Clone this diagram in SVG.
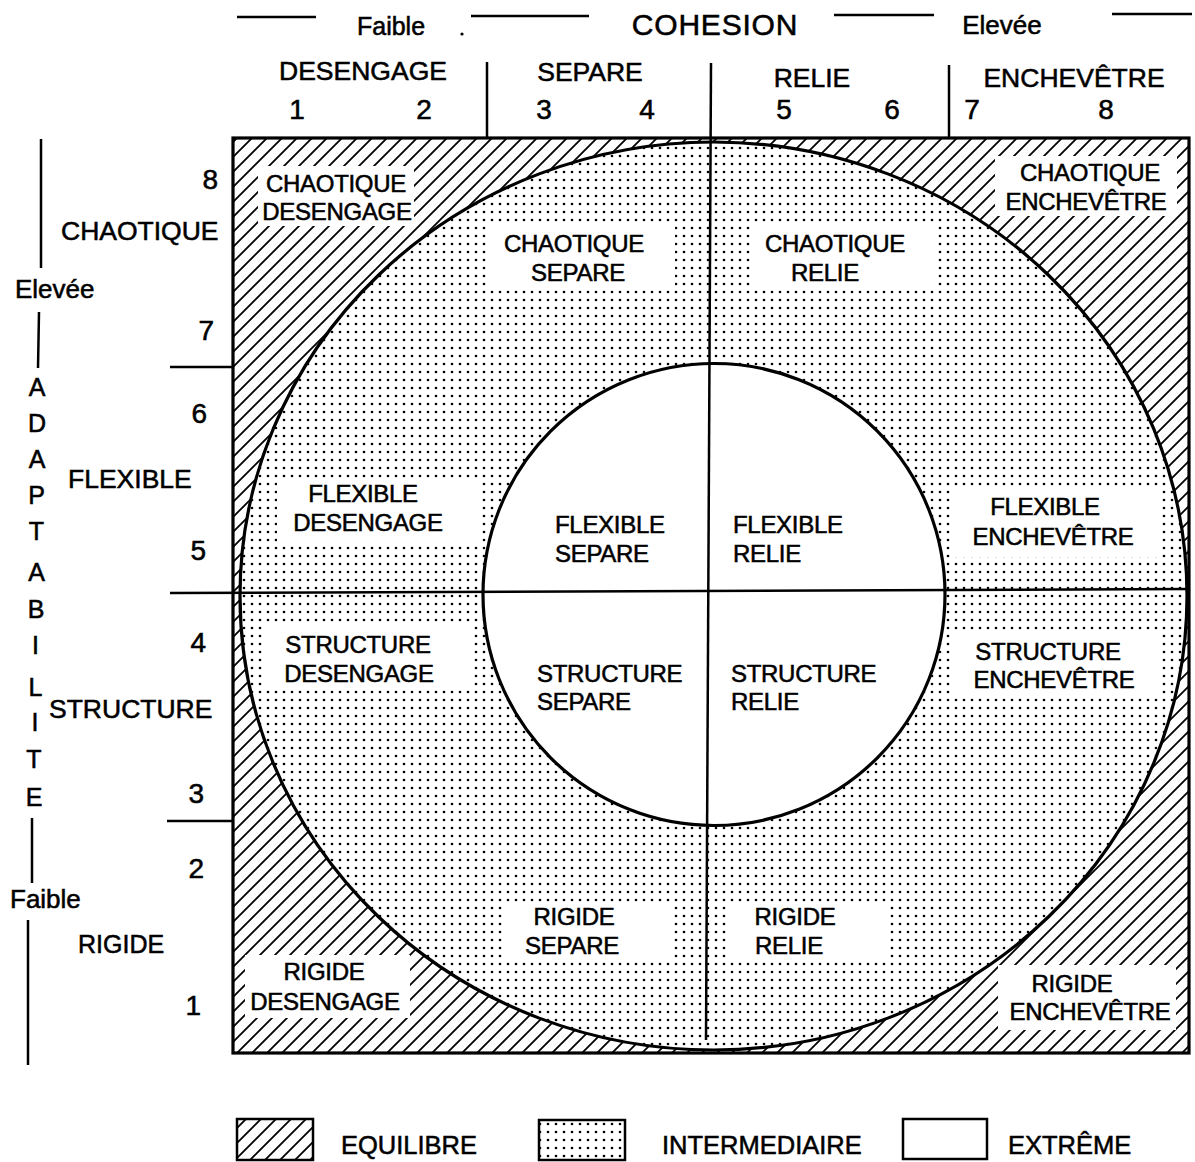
<svg xmlns="http://www.w3.org/2000/svg" width="1195" height="1162" viewBox="0 0 1195 1162">
<style>
text{font-family:"Liberation Sans",Arial,Helvetica,sans-serif;fill:#000;stroke:#000;stroke-width:0.55px}
.ax{font-size:26.5px}
.top{font-size:26.5px}
.num{font-size:28px}
.lab{font-size:24px;text-anchor:middle;letter-spacing:-0.3px}
.labl{font-size:24px;letter-spacing:-0.3px}
.let{font-size:25px;text-anchor:middle}
.leg{font-size:25.5px}
.ln{stroke:#000;stroke-width:2.5;fill:none}
.bold{stroke:#000;stroke-width:3.2;fill:none}
.wb{fill:#fff;stroke:none}
</style>
<defs>
<pattern id="hatch" patternUnits="userSpaceOnUse" width="15" height="15">
<path d="M-3.75,3.75 L3.75,-3.75 M0,15 L15,0 M11.25,18.75 L18.75,11.25" stroke="#000" stroke-width="1.8"/>
</pattern>
<pattern id="dots" patternUnits="userSpaceOnUse" width="8" height="8">
<circle cx="4" cy="4" r="1.3" fill="#000"/>
</pattern>
</defs>
<rect width="1195" height="1162" fill="#fff"/>

<g id="fills">
<rect x="233" y="138" width="956" height="915" fill="url(#hatch)"/>
<ellipse cx="713.5" cy="596" rx="473.5" ry="454" fill="#fff"/>
<ellipse cx="713.5" cy="596" rx="473.5" ry="454" fill="url(#dots)"/>
<circle cx="714" cy="594.5" r="231" fill="#fff"/>
</g>

<g id="label-boxes">
<rect class="wb" x="258" y="166" width="156" height="60"/>
<rect class="wb" x="487" y="225" width="188" height="63"/>
<rect class="wb" x="750" y="225" width="185" height="63"/>
<rect class="wb" x="995" y="156" width="182" height="60"/>
<rect class="wb" x="277" y="478" width="203" height="67"/>
<rect class="wb" x="263" y="623" width="210" height="67"/>
<rect class="wb" x="953" y="490" width="207" height="67"/>
<rect class="wb" x="950" y="633" width="210" height="64"/>
<rect class="wb" x="505" y="902" width="165" height="58"/>
<rect class="wb" x="728" y="902" width="159" height="58"/>
<rect class="wb" x="245" y="955" width="165" height="63"/>
<rect class="wb" x="998" y="965" width="178" height="65"/>
</g>

<g id="connectors">
<ellipse class="bold" cx="713.5" cy="596" rx="473.5" ry="454"/>
<circle class="bold" cx="714" cy="594.5" r="231"/>
<rect class="bold" x="233" y="138" width="956" height="915"/>
<line class="ln" x1="711" y1="63" x2="706" y2="1040"/>
<line class="ln" x1="170" y1="593" x2="1190" y2="589"/>
<line class="ln" x1="487" y1="62" x2="487" y2="138"/>
<line class="ln" x1="949" y1="65" x2="949" y2="138"/>
<line class="ln" x1="170" y1="367" x2="233" y2="367"/>
<line class="ln" x1="167" y1="821" x2="233" y2="821"/>
<line class="ln" x1="237" y1="17" x2="316" y2="17"/>
<line class="ln" x1="471" y1="16" x2="589" y2="16"/>
<line class="ln" x1="834" y1="15" x2="934" y2="15"/>
<line class="ln" x1="1112" y1="14" x2="1192" y2="14"/>
<circle cx="462" cy="34" r="1.6" fill="#000"/>
<line class="ln" x1="41" y1="139" x2="41" y2="268"/>
<line class="ln" x1="39" y1="312" x2="38" y2="368"/>
<line class="ln" x1="32" y1="818" x2="32" y2="883"/>
<line class="ln" x1="28" y1="920" x2="28" y2="1065"/>
</g>

<g id="cohesion-axis">
<text class="top" x="391" y="35" text-anchor="middle" style="font-size:25px">Faible</text>
<text x="715" y="35" text-anchor="middle" style="font-size:30px;letter-spacing:0.8px">COHESION</text>
<text class="top" x="1002" y="34" text-anchor="middle" style="font-size:26px">Elevée</text>
<text class="top" x="363" y="80" text-anchor="middle">DESENGAGE</text>
<text class="top" x="590" y="81" text-anchor="middle">SEPARE</text>
<text class="top" x="812" y="87" text-anchor="middle">RELIE</text>
<text class="top" x="1074" y="87" text-anchor="middle">ENCHEVÊTRE</text>
<text class="num" x="297" y="119" text-anchor="middle">1</text>
<text class="num" x="424" y="119" text-anchor="middle">2</text>
<text class="num" x="544" y="119" text-anchor="middle">3</text>
<text class="num" x="647" y="119" text-anchor="middle">4</text>
<text class="num" x="784" y="119" text-anchor="middle">5</text>
<text class="num" x="892" y="119" text-anchor="middle">6</text>
<text class="num" x="972" y="119" text-anchor="middle">7</text>
<text class="num" x="1106" y="119" text-anchor="middle">8</text>
</g>

<g id="adaptabilite-axis">
<text x="15" y="298" style="font-size:26px">Elevée</text>
<text x="10" y="908" style="font-size:26px">Faible</text>
<text class="let" x="37" y="396">A</text>
<text class="let" x="37" y="432">D</text>
<text class="let" x="37" y="468">A</text>
<text class="let" x="36.5" y="504">P</text>
<text class="let" x="36.5" y="540">T</text>
<text class="let" x="36.5" y="581">A</text>
<text class="let" x="36" y="618">B</text>
<text class="let" x="35.5" y="654">I</text>
<text class="let" x="35.5" y="696">L</text>
<text class="let" x="35" y="731">I</text>
<text class="let" x="34" y="768">T</text>
<text class="let" x="34" y="806">E</text>
<text class="num" x="218" y="189" text-anchor="end">8</text>
<text class="num" x="214" y="340" text-anchor="end">7</text>
<text class="num" x="207" y="423" text-anchor="end">6</text>
<text class="num" x="206" y="560" text-anchor="end">5</text>
<text class="num" x="206" y="652" text-anchor="end">4</text>
<text class="num" x="204" y="803" text-anchor="end">3</text>
<text class="num" x="204" y="878" text-anchor="end">2</text>
<text class="num" x="201" y="1015" text-anchor="end">1</text>
<text class="ax" x="61" y="240">CHAOTIQUE</text>
<text class="ax" x="68" y="488">FLEXIBLE</text>
<text class="ax" x="49" y="718">STRUCTURE</text>
<text class="ax" x="78" y="953" style="font-size:25px">RIGIDE</text>
</g>

<g id="chaotique-desengage"><text class="lab" x="336" y="192">CHAOTIQUE</text><text class="lab" x="337" y="220">DESENGAGE</text></g>
<g id="chaotique-separe"><text class="lab" x="574" y="252">CHAOTIQUE</text><text class="lab" x="578" y="281">SEPARE</text></g>
<g id="chaotique-relie"><text class="lab" x="835" y="252">CHAOTIQUE</text><text class="lab" x="825" y="281">RELIE</text></g>
<g id="chaotique-enchevetre"><text class="lab" x="1090" y="181">CHAOTIQUE</text><text class="lab" x="1086" y="210">ENCHEVÊTRE</text></g>
<g id="flexible-desengage"><text class="lab" x="363" y="502">FLEXIBLE</text><text class="lab" x="368" y="531">DESENGAGE</text></g>
<g id="flexible-separe"><text class="labl" x="555" y="533">FLEXIBLE</text><text class="labl" x="555" y="562">SEPARE</text></g>
<g id="flexible-relie"><text class="labl" x="733" y="533">FLEXIBLE</text><text class="labl" x="733" y="562">RELIE</text></g>
<g id="flexible-enchevetre"><text class="lab" x="1045" y="515">FLEXIBLE</text><text class="lab" x="1053" y="545">ENCHEVÊTRE</text></g>
<g id="structure-desengage"><text class="lab" x="358" y="653">STRUCTURE</text><text class="lab" x="359" y="682">DESENGAGE</text></g>
<g id="structure-separe"><text class="labl" x="537" y="682">STRUCTURE</text><text class="labl" x="537" y="710">SEPARE</text></g>
<g id="structure-relie"><text class="labl" x="731" y="682">STRUCTURE</text><text class="labl" x="731" y="710">RELIE</text></g>
<g id="structure-enchevetre"><text class="lab" x="1048" y="660">STRUCTURE</text><text class="lab" x="1054" y="688">ENCHEVÊTRE</text></g>
<g id="rigide-desengage"><text class="lab" x="324" y="980">RIGIDE</text><text class="lab" x="325" y="1010">DESENGAGE</text></g>
<g id="rigide-separe"><text class="lab" x="574" y="925">RIGIDE</text><text class="lab" x="572" y="954">SEPARE</text></g>
<g id="rigide-relie"><text class="lab" x="795" y="925">RIGIDE</text><text class="lab" x="789" y="954">RELIE</text></g>
<g id="rigide-enchevetre"><text class="lab" x="1072" y="992">RIGIDE</text><text class="lab" x="1090" y="1020">ENCHEVÊTRE</text></g>

<g id="legend">
<rect x="237" y="1119" width="76" height="41" fill="url(#hatch)" stroke="#000" stroke-width="2.5"/>
<text class="leg" x="341" y="1154">EQUILIBRE</text>
<rect x="539" y="1120" width="86" height="40" fill="url(#dots)" stroke="#000" stroke-width="2.5"/>
<text class="leg" x="662" y="1154">INTERMEDIAIRE</text>
<rect x="903" y="1119" width="84" height="40" fill="#fff" stroke="#000" stroke-width="2.5"/>
<text class="leg" x="1008" y="1154">EXTRÊME</text>
</g>
</svg>
